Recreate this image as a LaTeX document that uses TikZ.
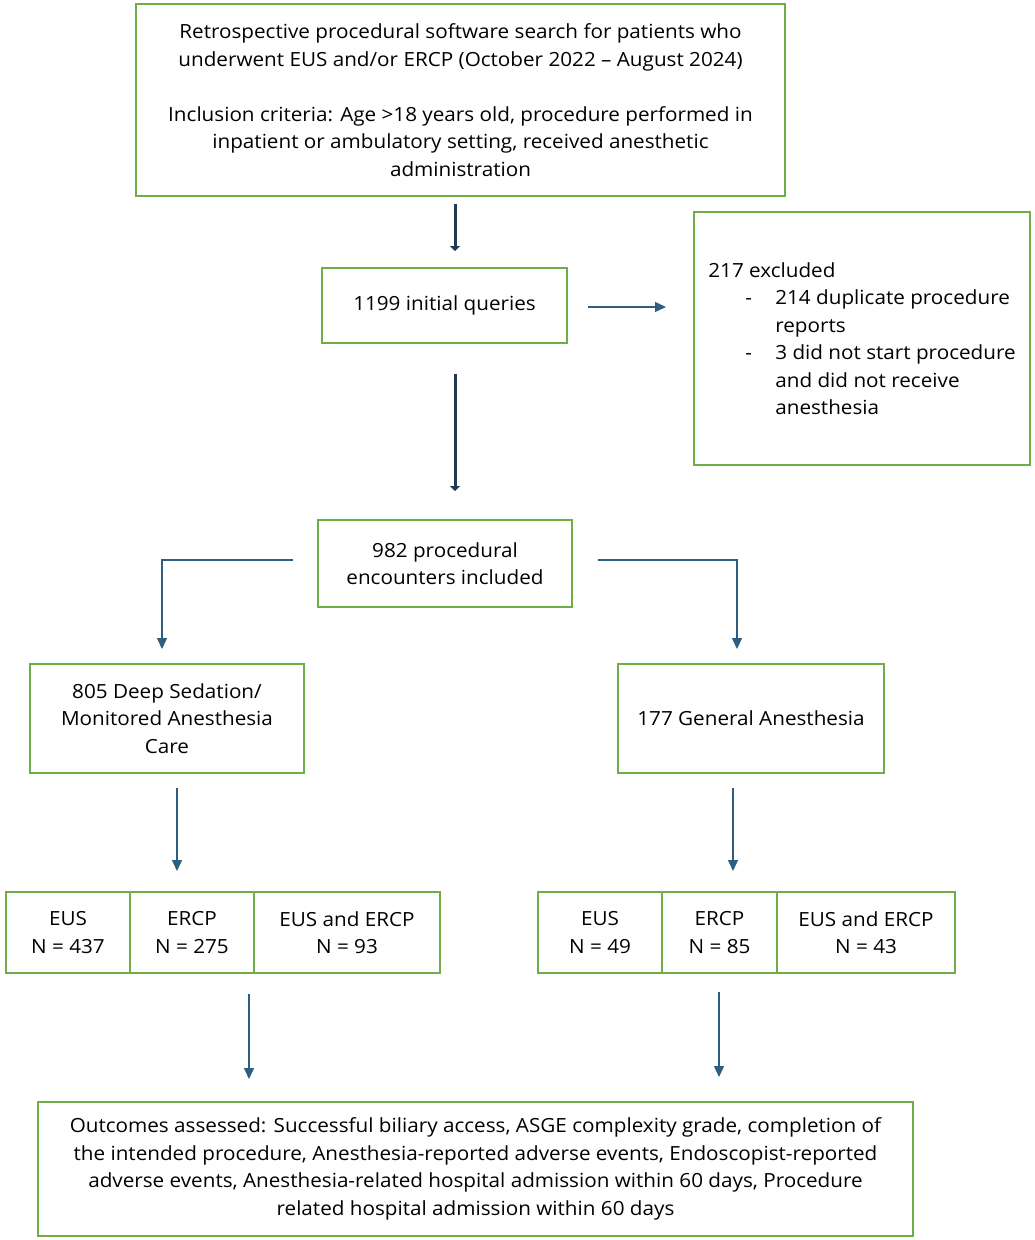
\documentclass[tikz,border=0pt]{standalone}
\usepackage{fontspec}
\setmainfont{Open Sans}[FakeStretch=1.06]
\usetikzlibrary{arrows.meta}
\definecolor{boxgreen}{HTML}{70AD47}
\definecolor{thickblue}{HTML}{1F3A52}
\definecolor{thinblue}{HTML}{2E5E80}
\begin{document}
\begin{tikzpicture}[x=1pt,y=-1pt,
  box/.style={draw=boxgreen,line width=2pt,inner sep=0pt,align=center,
    font=\fontsize{19.5}{27.5}\selectfont},
  thickarrow/.style={draw=thickblue,line width=3pt,-{Triangle[length=5pt,width=10pt]}},
  thinarrow/.style={draw=thinblue,line width=1.3pt,-{Triangle[length=11pt,width=10pt]}}]
\useasboundingbox (0,0) rectangle (1034,1240);
\node[box,minimum width=649pt,minimum height=192pt] (top) at (460.5,100)
  {Retrospective procedural software search for patients who\\
   underwent EUS and/or ERCP (October 2022 – August 2024)\\[27.5pt]
   Inclusion criteria: Age >18 years old, procedure performed in\\
   inpatient or ambulatory setting, received anesthetic\\
   administration};
\node[box,minimum width=245pt,minimum height=75pt] (q) at (444.5,305.5) {1199 initial queries};
\node[box,minimum width=336pt,minimum height=253pt,align=left] (ex) at (862,338.5)
  {217 excluded\\
   \makebox[67pt][l]{\hspace{37pt}-}214 duplicate procedure\hspace*{6pt}\\
   \makebox[67pt][l]{}reports\\
   \makebox[67pt][l]{\hspace{37pt}-}3 did not start procedure\\
   \makebox[67pt][l]{}and did not receive\\
   \makebox[67pt][l]{}anesthesia};
\node[box,minimum width=254pt,minimum height=87pt] (inc) at (445,563.5)
  {982 procedural\\encounters included};
\node[box,minimum width=274pt,minimum height=109pt] (ds) at (167,718.5)
  {805 Deep Sedation/\\Monitored Anesthesia\\Care};
\node[box,minimum width=266pt,minimum height=109pt] (ga) at (751,718.5)
  {177 General Anesthesia};
\node[box,minimum width=124pt,minimum height=81pt] (eusA) at (68,932.5) {EUS\\N = 437};
\node[box,minimum width=124pt,minimum height=81pt] (ercpA) at (192,932.5) {ERCP\\N = 275};
\node[box,minimum width=186pt,minimum height=81pt] (bothA) at (347,932.5) {EUS and ERCP\\N = 93};
\node[box,minimum width=124pt,minimum height=81pt] (eusB) at (600,932.5) {EUS\\N = 49};
\node[box,minimum width=115pt,minimum height=81pt] (ercpB) at (719.5,932.5) {ERCP\\N = 85};
\node[box,minimum width=178pt,minimum height=81pt] (bothB) at (866,932.5) {EUS and ERCP\\N = 43};
\node[box,minimum width=875pt,minimum height=134pt] (out) at (475.5,1169)
  {Outcomes assessed: Successful biliary access, ASGE complexity grade, completion of\\
   the intended procedure, Anesthesia-reported adverse events, Endoscopist-reported\\
   adverse events, Anesthesia-related hospital admission within 60 days, Procedure\\
   related hospital admission within 60 days};
% connectors
\draw[thickarrow] ([shift={(-5.5,7)}]top.south) -- ([shift={(10.5,-16)}]q.north);
\draw[thinarrow] ([shift={(20,1.5)}]q.east) -- ([shift={(-27,-31.5)}]ex.west);
\draw[thickarrow] ([shift={(10.5,30)}]q.south) -- ([shift={(10,-28)}]inc.north);
\draw[thinarrow] ([shift={(-24,-3.5)}]inc.west) -| ([shift={(-5,-14)}]ds.north);
\draw[thinarrow] ([shift={(25,-3.5)}]inc.east) -| ([shift={(-14,-14)}]ga.north);
\draw[thinarrow] ([shift={(10,14)}]ds.south) -- ([shift={(10,97)}]ds.south);
\draw[thinarrow] ([shift={(-18,14)}]ga.south) -- ([shift={(-18,97)}]ga.south);
\draw[thinarrow] ([shift={(57,20)}]ercpA.south) -- ([shift={(-226.5,-22)}]out.north);
\draw[thinarrow] ([shift={(-0.5,18)}]ercpB.south) -- ([shift={(243.5,-24)}]out.north);
\end{tikzpicture}
\end{document}
